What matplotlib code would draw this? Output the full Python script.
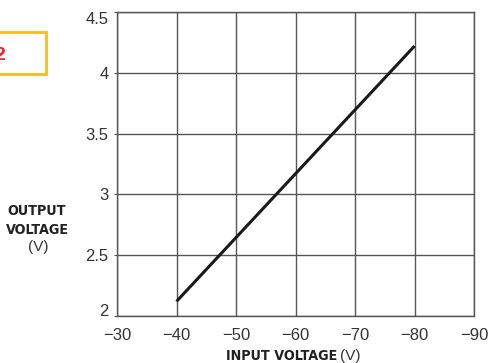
import matplotlib.pyplot as plt

# data
input_v = [-40, -80]
output_v = [2.12, 4.22]
x_ticks = [-30, -40, -50, -60, -70, -80, -90]
y_ticks = [2, 2.5, 3, 3.5, 4, 4.5]
y_labels = ['2', '2.5', '3', '3.5', '4', '4.5']

plt.rcParams['font.family'] = ['Liberation Sans', 'DejaVu Sans']

fig = plt.figure(figsize=(4.92, 3.63), dpi=100)
ax = fig.add_axes([117 / 492, 1 - 316 / 363, (474 - 117) / 492, (316 - 12) / 363])

ax.plot(input_v, output_v, color='#1a1a1a', lw=2.2, solid_capstyle='butt')

ax.set_xlim(-30, -90)
ax.set_ylim(2, 4.5)
ax.set_xticks(x_ticks)
ax.set_xticklabels([f'\u2212{abs(v)}' for v in x_ticks])
ax.set_yticks(y_ticks)
ax.set_yticklabels(y_labels)
ax.grid(True, color='#555555', lw=1)
ax.tick_params(labelsize=12, labelcolor='#333333', color='#555555')
ax.tick_params(axis='x', length=0, pad=9)
ax.tick_params(axis='y', length=2, pad=4)
# end labels sit inside the axis range, as in the reference
ylabs = ax.get_yticklabels()
ylabs[0].set_va('baseline')
ylabs[-1].set_va('top')
for s in ax.spines.values():
    s.set_color('#555555')
    s.set_linewidth(1)

cond = dict(family='DejaVu Sans', stretch='condensed', fontweight='bold', color='#222222')
fig.text(37 / 492, 1 - 211 / 363, 'OUTPUT', ha='center', va='center', fontsize=10.3, **cond)
fig.text(37 / 492, 1 - 230 / 363, 'VOLTAGE', ha='center', va='center', fontsize=10.3, **cond)
fig.text(38 / 492, 1 - 247 / 363, '(V)', ha='center', va='center', fontsize=11, color='#333333')

fig.text(337 / 492, 1 - 356 / 363, 'INPUT VOLTAGE', ha='right', va='center', fontsize=10.3, **cond)
fig.text(340 / 492, 1 - 356 / 363, '(V)', ha='left', va='center', fontsize=11, color='#333333')

# partially cut-off figure tag in the upper left
tag = plt.Rectangle((-4 / 492, 1 - 74 / 363), 50 / 492, 42 / 363, transform=fig.transFigure,
                    fill=False, edgecolor='#F5BE1E', lw=2)
fig.patches.append(tag)
fig.text(-6 / 492, 1 - 55 / 363, '2', ha='left', va='center', fontsize=14,
         fontweight='bold', color='#E8262E')

fig.savefig('out.png', dpi=100)
